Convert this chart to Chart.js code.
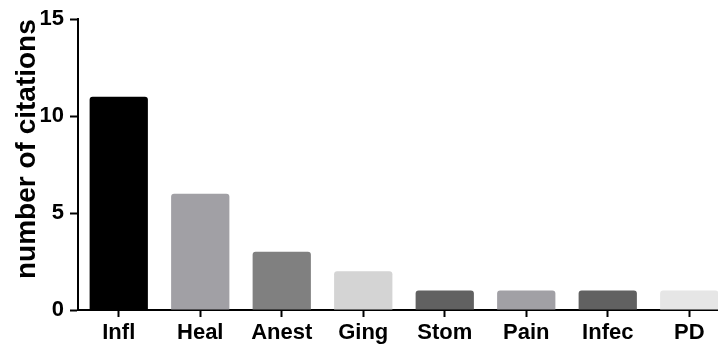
<!DOCTYPE html>
<html>
<head>
<meta charset="utf-8">
<script src="https://cdn.jsdelivr.net/npm/chart.js@4/dist/chart.umd.min.js"></script>
<style>
  html, body { margin: 0; padding: 0; background: #fff; overflow: hidden; }
  #wrap { width: 718px; height: 348px; overflow: hidden; position: relative; }
  #box { width: 730px; height: 348px; position: absolute; left: 0; top: 0; }
</style>
</head>
<body>
<div id="wrap"><div id="box"><canvas id="c"></canvas></div></div>
<script>
// Citation counts per topic
const categories = ['Infl', 'Heal', 'Anest', 'Ging', 'Stom', 'Pain', 'Infec', 'PD'];
const citations = [11, 6, 3, 2, 1, 1, 1, 1];
const barColors = ['#000000', '#a1a0a5', '#808080', '#d4d4d4', '#616161', '#a1a0a5', '#616161', '#e6e6e6'];
const yTicks = [0, 5, 10, 15];

const FONT = '"Liberation Sans", Arial, Helvetica, sans-serif';

new Chart(document.getElementById('c'), {
  type: 'bar',
  data: {
    labels: categories,
    datasets: [{
      data: citations,
      backgroundColor: barColors,
      borderWidth: 0,
      borderRadius: { topLeft: 3, topRight: 3, bottomLeft: 0, bottomRight: 0 },
      borderSkipped: 'bottom',
      barPercentage: 0.715,
      categoryPercentage: 1.0
    }]
  },
  options: {
    responsive: true,
    maintainAspectRatio: false,
    animation: false,
    layout: { padding: { top: 18, right: 0, bottom: 0, left: 0 } },
    plugins: { legend: { display: false }, tooltip: { enabled: false } },
    scales: {
      x: {
        offset: true,
        border: { display: true, color: '#000', width: 2 },
        grid: {
          display: true,
          drawOnChartArea: false,
          drawTicks: true,
          offset: false,
          tickLength: 7,
          tickWidth: 2,
          color: '#000'
        },
        ticks: {
          color: '#000',
          padding: 3,
          maxRotation: 0,
          autoSkip: false,
          font: { family: FONT, size: 22, weight: 'bold' }
        },
        afterFit: (s) => { s.height = 38; }
      },
      y: {
        min: 0,
        max: 15,
        afterBuildTicks: (s) => { s.ticks = yTicks.map(v => ({ value: v })); },
        border: { display: true, color: '#000', width: 2 },
        grid: {
          display: true,
          drawOnChartArea: false,
          drawTicks: true,
          tickLength: 8,
          tickWidth: 2,
          color: '#000'
        },
        ticks: {
          color: '#000',
          padding: 6,
          font: { family: FONT, size: 22, weight: 'bold' }
        },
        title: {
          display: true,
          text: 'number of citations',
          align: 'end',
          color: '#000',
          padding: { top: 10, bottom: 0 },
          font: { family: FONT, size: 28, weight: 'bold' }
        },
        afterFit: (s) => { s.width = 78; }
      }
    }
  }
});
</script>
</body>
</html>
